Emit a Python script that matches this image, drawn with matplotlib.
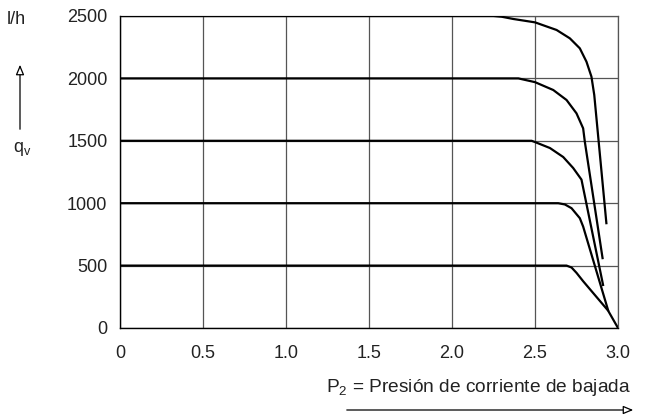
import matplotlib
matplotlib.use('Agg')
import matplotlib.pyplot as plt

plt.rcParams['font.family'] = ['Liberation Sans', 'DejaVu Sans']
plt.rcParams['mathtext.default'] = 'regular'

# curves of flow q_v (l/h) against downstream pressure P2
c2500_x = [0, 2.25, 2.30, 2.37, 2.50, 2.63, 2.71, 2.77, 2.81, 2.84, 2.857, 2.93]
c2500_y = [2500, 2500, 2494, 2476, 2449, 2388, 2321, 2241, 2134, 2014, 1867, 840]
c2000_x = [0, 2.40, 2.50, 2.61, 2.69, 2.75, 2.79, 2.80, 2.907]
c2000_y = [2000, 2000, 1970, 1907, 1827, 1720, 1600, 1494, 560]
c1500_x = [0, 2.48, 2.50, 2.59, 2.67, 2.73, 2.78, 2.91]
c1500_y = [1500, 1500, 1490, 1442, 1370, 1282, 1189, 345]
c1000_x = [0, 2.64, 2.68, 2.72, 2.77, 2.79, 2.94]
c1000_y = [1000, 1000, 990, 960, 880, 813, 144]
c500_x = [0, 2.69, 2.72, 2.75, 2.79, 2.94, 3.0]
c500_y = [500, 500, 485, 442, 375, 140, 0]

xticks = [0, 0.5, 1.0, 1.5, 2.0, 2.5, 3.0]
xlabels = ['0', '0.5', '1.0', '1.5', '2.0', '2.5', '3.0']
yticks = [0, 500, 1000, 1500, 2000, 2500]

fs = 13
tc = '#222222'

fig = plt.figure(figsize=(6.45, 4.2), dpi=100)
ax = fig.add_axes([120/645, 92/420, 498/645, 312/420])

curves = [(c2500_x, c2500_y), (c2000_x, c2000_y), (c1500_x, c1500_y),
          (c1000_x, c1000_y), (c500_x, c500_y)]
for cx, cy in curves:
    ax.plot(cx, cy, color='black', lw=1.6, solid_joinstyle='round', zorder=3)

ax.set_xlim(0, 3.0)
ax.set_ylim(0, 2500)
ax.set_xticks(xticks, xlabels)
ax.set_yticks(yticks)
ax.grid(True, color='#555555', lw=0.9)
ax.tick_params(length=0, labelsize=fs, labelcolor=tc)
ax.tick_params(axis='x', pad=12)
ax.tick_params(axis='y', pad=9)
for s in ['top', 'right']:
    ax.spines[s].set_color('#555555')
    ax.spines[s].set_linewidth(0.9)
for s in ['left', 'bottom']:
    ax.spines[s].set_linewidth(1.0)

# axis annotations
fig.text(16/645, 1 - 19/420, 'l/h', ha='center', va='center', fontsize=fs, color=tc)
fig.text(22/645, 1 - 149/420, 'q$_v$', ha='center', va='center', fontsize=fs, color=tc)
fig.add_artist(matplotlib.patches.FancyArrowPatch(
    (20/645, 1 - 132/420), (20/645, 1 - 62/420), transform=fig.transFigure,
    arrowstyle='-|>,head_length=6,head_width=2.5', fc='white', ec='black', lw=0.9))

fig.text(479/645, 1 - 387/420, 'P$_2$ = Presión de corriente de bajada',
         ha='center', va='center', fontsize=13.8, color=tc)
fig.add_artist(matplotlib.patches.FancyArrowPatch(
    (344/645, 1 - 410/420), (636/645, 1 - 410/420), transform=fig.transFigure,
    arrowstyle='-|>,head_length=6,head_width=2.5', fc='white', ec='black', lw=0.9))

fig.savefig('out.png', dpi=100)
